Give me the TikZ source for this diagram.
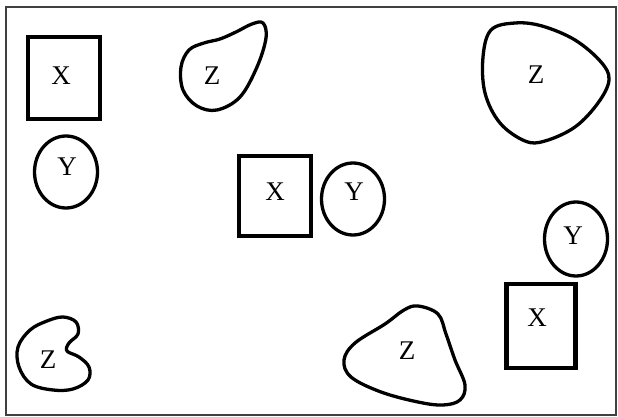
\documentclass[tikz,border=0pt]{standalone}
\usepackage{fontspec}
\setmainfont{Liberation Serif}
\usetikzlibrary{shapes.geometric}
\tikzset{
  xbox/.style={draw, line width=4.5pt, inner sep=0pt, minimum width=72pt, minimum height=82pt},
  yball/.style={draw, ellipse, line width=3.3pt, inner sep=0pt, minimum width=63pt, minimum height=72pt},
  zblob/.style={draw, line width=3.3pt, line join=round},
  tag/.style={inner sep=0pt, font=\fontsize{27}{30}\selectfont},
}

\begin{document}
\begin{tikzpicture}[x=1pt,y=-1pt]
\useasboundingbox (0,0) rectangle (618,417);
\draw[gray!50!black, line width=2.2pt] (6,7) rectangle (616,415);

% squares
\node[xbox] (sqA) at (64,78) {};
\node[xbox, minimum height=80pt] (sqB) at (275,196) {};
\node[xbox, minimum width=69pt, minimum height=84pt] (sqC) at (541,326) {};
\node[tag] (xA) at (61,76) {X};
\node[tag] (xB) at (275,192) {X};
\node[tag] (xC) at (537,318) {X};

% ellipses
\node[yball] (elA) at (66,172) {};
\node[yball, minimum height=72pt] (elB) at (353,199) {};
\node[yball, minimum height=74pt] (elC) at (576,239) {};
\node[tag] (yA) at (67,167) {Y};
\node[tag] (yB) at (354,192) {Y};
\node[tag] (yC) at (573,236) {Y};

% blobs
\draw[zblob] plot[smooth cycle, tension=0.6] coordinates {
  (263,23) (266,38) (257,67) (240,97) (217,110) (197,106) (183,90)
  (181,67) (189,50) (204,43) (220,39) (236,32) (252,24)};
\draw[zblob] plot[smooth cycle, tension=0.6] coordinates {
  (515,23) (491,30) (483,57) (485,93) (500,123) (525,141) (545,141)
  (575,127) (598,103) (609,80) (601,62) (575,40) (542,26)};
\draw[zblob] plot[smooth cycle, tension=0.6] coordinates {
  (418,306) (438,314) (446,334) (455,360) (465,385) (460,400) (443,405)
  (418,402) (381,392) (351,377) (344,360) (355,343) (385,324) (404,310)};
\draw[zblob] plot[smooth cycle, tension=0.6] coordinates {
  (63,317) (76,322) (78,334) (69,343) (67,351) (79,357) (89,367) (88,380)
  (73,389) (53,390) (31,384) (19,367) (18,347) (30,330) (47,321)};
\node[tag] (zA) at (212,76) {Z};
\node[tag] (zB) at (536,75) {Z};
\node[tag] (zC) at (407,351) {Z};
\node[tag] (zD) at (48,360) {Z};
\end{tikzpicture}
\end{document}
